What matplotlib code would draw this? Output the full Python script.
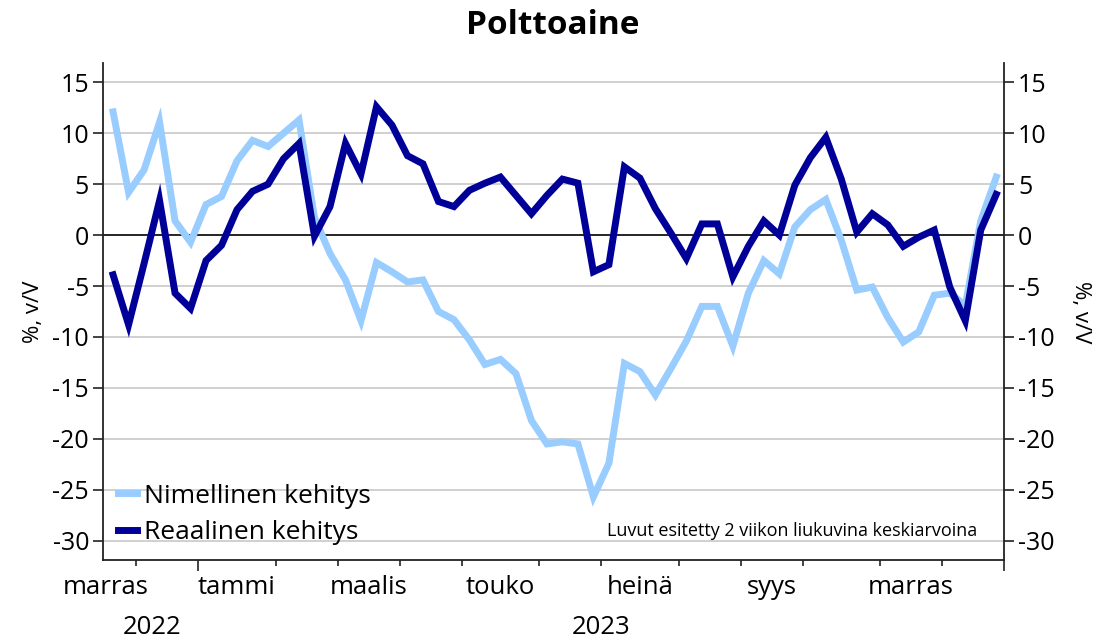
import matplotlib
matplotlib.use("Agg")
import matplotlib.pyplot as plt
import matplotlib.transforms as mtransforms
import numpy as np
import pandas as pd

# ---------------- data ----------------
title = "Polttoaine"
series_names = ["Nimellinen kehitys", "Reaalinen kehitys"]
first_week = "2022-11-21"  # weekly (Monday) observations
nimellinen = [12.1, 4.2, 6.4, 11.1, 1.4, -0.7, 3.0, 3.8, 7.3, 9.3,
              8.7, 10.0, 11.3, 1.7, -1.8, -4.4, -8.4, -2.7, -3.6, -4.6,
              -4.4, -7.5, -8.3, -10.3, -12.7, -12.2, -13.6, -18.2, -20.5, -20.3,
              -20.5, -25.7, -22.4, -12.6, -13.4, -15.7, -13.1, -10.4, -7.0, -7.0,
              -10.9, -5.7, -2.5, -3.8, 0.8, 2.5, 3.5, -0.5, -5.4, -5.1,
              -8.1, -10.5, -9.5, -5.9, -5.7, -6.9, 1.4, 5.7]
reaalinen = [-3.9, -8.8, -2.8, 3.4, -5.7, -7.2, -2.5, -1.0, 2.5, 4.3,
             5.0, 7.5, 9.0, -0.1, 2.8, 9.0, 6.0, 12.6, 10.8, 7.8,
             7.0, 3.3, 2.8, 4.4, 5.1, 5.7, 3.9, 2.1, 3.9, 5.5,
             5.1, -3.6, -2.9, 6.7, 5.6, 2.6, 0.2, -2.3, 1.1, 1.1,
             -4.1, -1.1, 1.4, 0.0, 4.9, 7.6, 9.6, 5.5, 0.3, 2.1,
             1.0, -1.1, -0.2, 0.5, -5.1, -8.4, 0.5, 4.0]
month_names = ["tammi", "helmi", "maalis", "huhti", "touko", "kesä",
               "heinä", "elo", "syys", "loka", "marras", "joulu"]
labelled_months = [11, 1, 3, 5, 7, 9]
y_ticks = [15, 10, 5, 0, -5, -10, -15, -20, -25, -30]
y_label = "%, v/V"
note = "Luvut esitetty 2 viikon liukuvina keskiarvoina"

# ---------------- styling ----------------
light = "#99CCFF"
dark = "#000099"
FONT = ["Open Sans", "DejaVu Sans"]
plt.rcParams["font.family"] = FONT
FS = 18

n = len(nimellinen)
dates = pd.date_range(first_week, periods=n, freq="7D")
x = np.arange(n)

fig = plt.figure(figsize=(10.97, 6.40), dpi=100)
ax = fig.add_axes([103 / 1097, 1 - 560 / 640, (1004 - 103) / 1097, (560 - 63) / 640])

xlim = (-0.65, n - 0.5)
ylim = (-31.9, 16.9)

for v in y_ticks:
    if v == 0:
        ax.axhline(0, color="black", lw=1.2, zorder=2)
    else:
        ax.axhline(v, color="#c8c8c8", lw=1.2, zorder=1)

ax.plot(x, nimellinen, color=light, lw=5.0, solid_joinstyle="miter", zorder=3, label=series_names[0])
ax.plot(x, reaalinen, color=dark, lw=5.0, solid_joinstyle="miter", zorder=4, label=series_names[1])

ax.set_xlim(*xlim)
ax.set_ylim(*ylim)

ax.spines["top"].set_visible(False)
for s in ["left", "right", "bottom"]:
    ax.spines[s].set_linewidth(1.3)
    ax.spines[s].set_color("#222222")

ax.set_yticks(y_ticks)
ax.set_yticklabels([str(v) for v in y_ticks])
ax.tick_params(axis="y", which="both", left=True, right=True, labelleft=True,
               labelright=True, length=7, width=1.2, labelsize=FS, pad=3,
               color="#222222")
ax.set_ylabel(y_label, fontsize=16, labelpad=6)
fig.text(1081 / 1097, 1 - 312 / 640, y_label, rotation=270, fontsize=16,
         ha="center", va="center")

# month boundaries from a wider weekly calendar
ext = pd.date_range(pd.Timestamp(first_week) - pd.Timedelta(days=28),
                    periods=n + 12, freq="7D")
ext_idx = np.arange(len(ext)) - 4
months = ext.to_period("M")
bounds = []
for i in range(1, len(ext)):
    if months[i] != months[i - 1]:
        bounds.append((ext_idx[i] - 0.5, months[i]))
minor_b = [b for b, m in bounds if xlim[0] <= b <= xlim[1] + 1e-9 and m.month != 1]
major_b = [b for b, m in bounds if xlim[0] <= b <= xlim[1] + 1e-9 and m.month == 1]
ax.set_xticks(major_b)
ax.set_xticks(minor_b, minor=True)
ax.set_xticklabels([])
ax.tick_params(axis="x", which="major", length=8, width=1.2, color="#222222")
ax.tick_params(axis="x", which="minor", length=4, width=1.2, color="#222222")

trans = mtransforms.blended_transform_factory(ax.transData, ax.transAxes)
ax_h_px = 560 - 63
for j in range(len(bounds) - 1):
    b0, m = bounds[j]
    b1, _ = bounds[j + 1]
    if m.month in labelled_months:
        c = (b0 + b1) / 2
        if xlim[0] - 1.5 <= c <= xlim[1]:
            ax.text(c, -28 / ax_h_px, month_names[m.month - 1], transform=trans,
                    ha="center", va="center", fontsize=FS + 0.5)

years = sorted(set(dates.year))
for yr in years:
    idx = x[dates.year == yr]
    lo = max(idx.min() - 0.5, xlim[0])
    hi = min(idx.max() + 0.5, xlim[1])
    ax.text((lo + hi) / 2, -67 / ax_h_px, str(yr), transform=trans,
            ha="center", va="center", fontsize=FS + 0.5)

leg = ax.legend(loc="lower left", bbox_to_anchor=(0.0, 0.0), frameon=False,
                fontsize=FS + 1, handlelength=0.75, handletextpad=0.25,
                labelspacing=0.45, borderaxespad=0.15)

ax.text(977, -29.1, note, ha="right", va="center", fontsize=13,
        transform=mtransforms.blended_transform_factory(
            mtransforms.IdentityTransform(), ax.transData))

fig.text(553 / 1097, 1 - 26 / 640, title, ha="center", va="center",
         fontsize=24, fontweight="bold")

fig.savefig("out.png", dpi=100)
